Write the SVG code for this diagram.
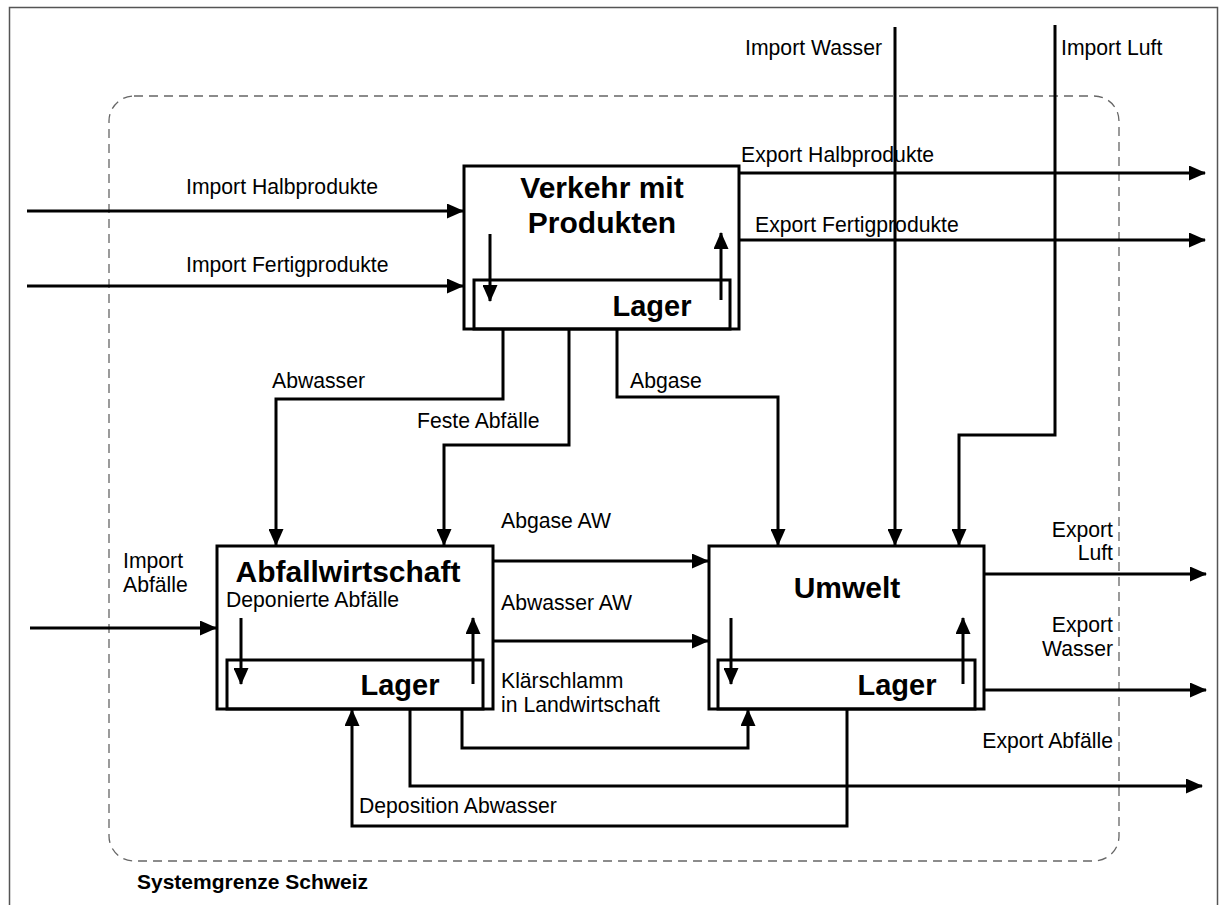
<svg xmlns="http://www.w3.org/2000/svg" width="1219" height="905" viewBox="0 0 1219 905">
  <style>
    .box { fill: #fff; stroke: #000; stroke-width: 3; }
    .store { fill: none; stroke: #000; stroke-width: 3; }
    .flow { fill: none; stroke: #000; stroke-width: 3; }
    .title { font-family: "Liberation Sans", Arial, sans-serif; font-weight: bold; font-size: 30px; fill: #000; }
    .lager { font-family: "Liberation Sans", Arial, sans-serif; font-weight: bold; font-size: 29px; fill: #000; }
    .lbl { font-family: "Liberation Sans", Arial, sans-serif; font-size: 21.2px; fill: #000; }
    .boundary { fill: none; stroke: #666; stroke-width: 1.3; stroke-dasharray: 9 6; }
  </style>
  <defs>
    <marker id="arrow" markerUnits="userSpaceOnUse" markerWidth="17" markerHeight="15" refX="16" refY="7.5" orient="auto">
      <path d="M0,0 L17,7.5 L0,15 z" fill="#000"/>
    </marker>
  </defs>

  <rect width="1219" height="905" fill="#fff"/>
  <!-- outer frame -->
  <rect x="9.5" y="7.5" width="1208" height="900" fill="none" stroke="#555" stroke-width="1.5"/>

  <!-- system boundary -->
  <g id="boundary">
    <rect class="boundary" x="109" y="96" width="1010" height="765" rx="25" ry="25"/>
    <text x="137" y="889" style="font-family: 'Liberation Sans', Arial, sans-serif; font-weight: bold; font-size: 21px;">Systemgrenze Schweiz</text>
  </g>

  <!-- connectors -->
  <g id="connectors" class="flow" marker-end="url(#arrow)">
    <!-- imports into Verkehr -->
    <path d="M27,211 H463"/>
    <path d="M27,286 H463"/>
    <!-- exports from Verkehr -->
    <path d="M739,173 H1205"/>
    <path d="M739,240 H1205"/>
    <!-- Verkehr to Abfallwirtschaft -->
    <path d="M503,329 V399 H276 V545"/>
    <path d="M569,329 V445 H444 V545"/>
    <!-- Abgase to Umwelt -->
    <path d="M617,329 V397 H778 V545"/>
    <!-- imports water / air -->
    <path d="M895,27 V545"/>
    <path d="M1055,25 V435 H959 V545"/>
    <!-- import waste -->
    <path d="M30,628 H216"/>
    <!-- Abfallwirtschaft to Umwelt -->
    <path d="M493,561 H708"/>
    <path d="M493,641 H708"/>
    <!-- exports from Umwelt -->
    <path d="M984,574 H1206"/>
    <path d="M984,690 H1206"/>
    <!-- Klärschlamm -->
    <path d="M462,709 V748 H748 V710"/>
    <!-- Export Abfälle -->
    <path d="M410,709 V786 H1202"/>
    <!-- Deposition Abwasser -->
    <path d="M847,709 V826 H352 V710"/>
  </g>

  <!-- Verkehr mit Produkten -->
  <g id="verkehr">
    <rect class="box" x="464" y="166" width="275" height="163"/>
    <rect class="store" x="474" y="280" width="256" height="49"/>
    <text class="title" x="602" y="198" text-anchor="middle">Verkehr mit</text>
    <text class="title" x="602" y="233" text-anchor="middle">Produkten</text>
    <text class="lager" x="652" y="316" text-anchor="middle">Lager</text>
    <path class="flow" d="M490,234 V301" marker-end="url(#arrow)"/>
    <path class="flow" d="M721,300 V233" marker-end="url(#arrow)"/>
  </g>

  <!-- Abfallwirtschaft -->
  <g id="abfallwirtschaft">
    <rect class="box" x="217" y="546" width="276" height="163"/>
    <rect class="store" x="227" y="660" width="256" height="49"/>
    <text class="title" x="348" y="582" text-anchor="middle">Abfallwirtschaft</text>
    <text class="lbl" x="226" y="607">Deponierte Abfälle</text>
    <text class="lager" x="400" y="695" text-anchor="middle">Lager</text>
    <path class="flow" d="M241,618 V684" marker-end="url(#arrow)"/>
    <path class="flow" d="M473,684 V618" marker-end="url(#arrow)"/>
  </g>

  <!-- Umwelt -->
  <g id="umwelt">
    <rect class="box" x="709" y="546" width="275" height="163"/>
    <rect class="store" x="718" y="660" width="257" height="49"/>
    <text class="title" x="847" y="598" text-anchor="middle">Umwelt</text>
    <text class="lager" x="897" y="695" text-anchor="middle">Lager</text>
    <path class="flow" d="M731,618 V684" marker-end="url(#arrow)"/>
    <path class="flow" d="M963,684 V618" marker-end="url(#arrow)"/>
  </g>

  <!-- flow labels -->
  <g id="labels" class="lbl">
    <text x="186" y="194">Import Halbprodukte</text>
    <text x="186" y="272">Import Fertigprodukte</text>
    <text x="882" y="55" text-anchor="end">Import Wasser</text>
    <text x="1061" y="55">Import Luft</text>
    <text x="741" y="162">Export Halbprodukte</text>
    <text x="755" y="232">Export Fertigprodukte</text>
    <text x="272" y="388">Abwasser</text>
    <text x="417" y="428">Feste Abfälle</text>
    <text x="630" y="388">Abgase</text>
    <text x="501" y="528">Abgase AW</text>
    <text x="501" y="610">Abwasser AW</text>
    <text x="501" y="688">Klärschlamm</text>
    <text x="501" y="712">in Landwirtschaft</text>
    <text x="123" y="568">Import</text>
    <text x="123" y="592">Abfälle</text>
    <text x="1113" y="537" text-anchor="end">Export</text>
    <text x="1113" y="560" text-anchor="end">Luft</text>
    <text x="1113" y="632" text-anchor="end">Export</text>
    <text x="1113" y="656" text-anchor="end">Wasser</text>
    <text x="1113" y="748" text-anchor="end">Export Abfälle</text>
    <text x="359" y="813">Deposition Abwasser</text>
  </g>
</svg>
